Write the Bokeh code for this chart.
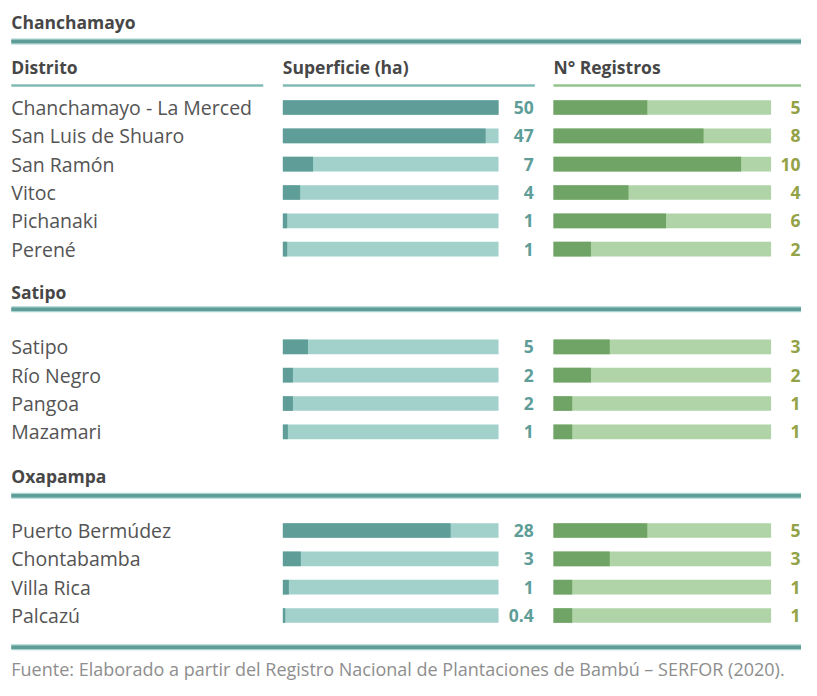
from bokeh.plotting import figure
from bokeh.models import Range1d
from bokeh.embed import file_html
from bokeh.resources import INLINE
from bokeh.core.properties import value

# ---------------- data ----------------
provincias = ["Chanchamayo", "Satipo", "Oxapampa"]

distritos_chanchamayo = ["Chanchamayo - La Merced", "San Luis de Shuaro", "San Ramón",
                         "Vitoc", "Pichanaki", "Perené"]
superficie_chanchamayo = [50, 47, 7, 4, 1, 1]
registros_chanchamayo = [5, 8, 10, 4, 6, 2]

distritos_satipo = ["Satipo", "Río Negro", "Pangoa", "Mazamari"]
superficie_satipo = [5, 2, 2, 1]
registros_satipo = [3, 2, 1, 1]

distritos_oxapampa = ["Puerto Bermúdez", "Chontabamba", "Villa Rica", "Palcazú"]
superficie_oxapampa = [28, 3, 1, 0.4]
registros_oxapampa = [5, 3, 1, 1]

column_headers = ["Distrito", "Superficie (ha)", "N° Registros"]
fuente = "Fuente: Elaborado a partir del Registro Nacional de Plantaciones de Bambú – SERFOR (2020)."

# scale maxima of the bar tracks (as drawn in the original)
superficie_max = [50, 43, 36]
registros_max = 11.6

# ---------------- layout / style ----------------
FONT = "Open Sans"
TXT = "#545454"
HEAD = "#474747"
TEAL_DARK = "#5e9d98"
TEAL_LIGHT = "#a2d1cc"
TEAL_LINE = "#80bbb5"
GREEN_DARK = "#70a466"
GREEN_LIGHT = "#b0d4a7"
GREEN_LINE = "#93c48b"
REG_NUM = "#93a246"

LABEL_X = 11
SUP_X0, SUP_W, SUP_VAL_X = 288, 220, 544
REG_X0, REG_W, REG_VAL_X = 564, 222, 816
BAR_H = 15
ROW_STEP = 29
title_y = [22, 298, 487]
line_y = [42, 316, 507]
row0_y = [109.5, 354.5, 542.5]
HEADER_Y, HEADER_LINE_Y = 68, 87
BOTTOM_LINE_Y, FOOTER_Y = 662, 684

p = figure(width=801, height=680, output_backend="svg", toolbar_location=None,
           x_range=Range1d(0, 817), y_range=Range1d(696, 0),
           min_border=0, outline_line_color=None)
p.axis.visible = False
p.grid.visible = False
p.background_fill_color = "white"
p.border_fill_color = "white"


def fmt(v):
    return str(int(v)) if float(v).is_integer() else str(v)


def thick_line(y):
    p.line([LABEL_X, 830], [y, y], line_color="#a9d3cf", line_width=6)
    p.line([LABEL_X, 830], [y, y], line_color=TEAL_DARK, line_width=3.5)


# column headers (first section only)
p.text(x=[LABEL_X, SUP_X0, REG_X0], y=[HEADER_Y] * 3, text=column_headers,
       text_font=value(FONT), text_font_style="bold", text_font_size="17.5px",
       text_color=HEAD, text_baseline="middle", text_align="left")
p.line([LABEL_X, 268], [HEADER_LINE_Y] * 2, line_color=TEAL_LINE, line_width=2.5)
p.line([SUP_X0, 545], [HEADER_LINE_Y] * 2, line_color=TEAL_LINE, line_width=2.5)
p.line([REG_X0, 830], [HEADER_LINE_Y] * 2, line_color=GREEN_LINE, line_width=2.5)

sections = [
    (distritos_chanchamayo, superficie_chanchamayo, registros_chanchamayo),
    (distritos_satipo, superficie_satipo, registros_satipo),
    (distritos_oxapampa, superficie_oxapampa, registros_oxapampa),
]

for i, (names, sup, reg) in enumerate(sections):
    p.text(x=[LABEL_X], y=[title_y[i]], text=[provincias[i]],
           text_font=value(FONT), text_font_style="bold", text_font_size="17.5px",
           text_color=HEAD, text_baseline="middle", text_align="left")
    thick_line(line_y[i])

    ys = [row0_y[i] + k * ROW_STEP for k in range(len(names))]
    n = len(names)
    # labels
    p.text(x=[LABEL_X] * n, y=ys, text=names, text_font=value(FONT),
           text_font_size="19.5px", text_color=TXT, text_baseline="middle",
           text_align="left")
    # superficie bars
    p.hbar(y=ys, left=SUP_X0, right=SUP_X0 + SUP_W, height=BAR_H,
           fill_color=TEAL_LIGHT, line_color=None)
    p.hbar(y=ys, left=SUP_X0,
           right=[SUP_X0 + SUP_W * min(v / superficie_max[i], 1) for v in sup],
           height=BAR_H, fill_color=TEAL_DARK, line_color=None)
    p.text(x=[SUP_VAL_X] * n, y=ys, text=[fmt(v) for v in sup],
           text_font=value(FONT), text_font_style="bold", text_font_size="17.5px",
           text_color=TEAL_DARK, text_baseline="middle", text_align="right")
    # registros bars
    p.hbar(y=ys, left=REG_X0, right=REG_X0 + REG_W, height=BAR_H,
           fill_color=GREEN_LIGHT, line_color=None)
    p.hbar(y=ys, left=REG_X0,
           right=[REG_X0 + REG_W * v / registros_max for v in reg],
           height=BAR_H, fill_color=GREEN_DARK, line_color=None)
    p.text(x=[REG_VAL_X] * n, y=ys, text=[fmt(v) for v in reg],
           text_font=value(FONT), text_font_style="bold", text_font_size="17.5px",
           text_color=REG_NUM, text_baseline="middle", text_align="right")

thick_line(BOTTOM_LINE_Y)
p.text(x=[LABEL_X], y=[FOOTER_Y], text=[fuente], text_font=value(FONT),
       text_font_size="18px", text_color="#8e8e8e", text_baseline="alphabetic",
       text_align="left")

open("out.html", "w").write(file_html(p, INLINE))
